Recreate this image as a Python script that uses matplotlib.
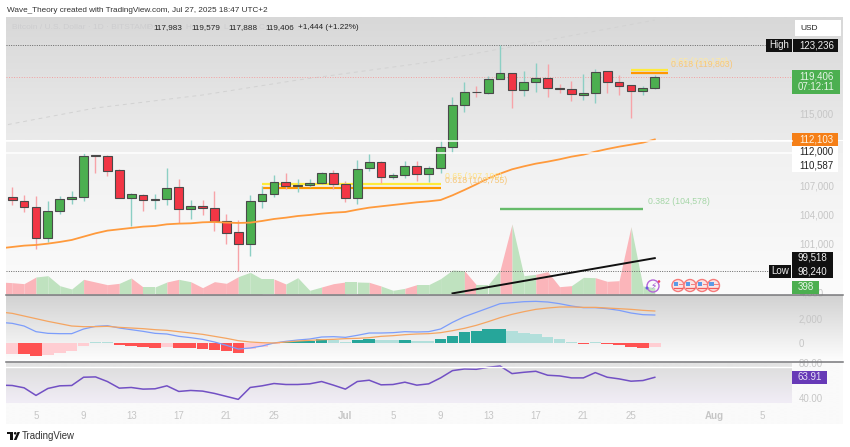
#!/usr/bin/env python3
# BTC/USD daily screenshot rebuilt: candles + EMA + volume, MACD pane, RSI pane
import numpy as np
import matplotlib; matplotlib.use("Agg")
import matplotlib.pyplot as plt
from matplotlib.patches import Rectangle, Circle, Polygon
from matplotlib.lines import Line2D
from matplotlib.transforms import Affine2D
from matplotlib.ticker import FixedLocator, NullLocator, FuncFormatter

plt.rcParams["font.family"] = ["Liberation Sans", "DejaVu Sans"]

# Jun 3 .. Jul 27 2025, one entry per day
opens = [105850, 105390, 104720, 101590, 104370, 105600, 105780, 110370, 110250, 108680, 105740,
         106060, 105460, 105600, 106840, 104580, 104860, 104620, 103260, 102130, 100980, 105420,
         106130, 107420, 107020, 107090, 107310, 108360, 107160, 105670, 108900, 109590, 107990,
         108210, 109190, 108280, 108900, 111250, 116000, 117600, 117490, 119070, 119870, 117760,
         118710, 119270, 118000, 117880, 117170, 117450, 120030, 118750, 118350, 117640, 117983]
highs = [106840, 106030, 105950, 105390, 105950, 106490, 110550, 110370, 110370, 108790, 106200,
         106170, 106170, 108970, 107740, 105530, 105460, 106490, 103990, 103370, 106030, 106990,
         108170, 108360, 107740, 107740, 108500, 108720, 107490, 109780, 110510, 109740, 108390,
         109740, 109740, 109190, 112040, 116940, 118790, 118270, 119470, 123236, 119870, 120110,
         120990, 120870, 118510, 118870, 119670, 120270, 120110, 119550, 118430, 118310, 119579]
lows = [104970, 104230, 100400, 101150, 104020, 105070, 105390, 108430, 108100, 105740, 102820,
        104370, 104510, 105000, 103130, 103500, 103950, 102300, 100940, 98240, 99730, 104690,
        105850, 106630, 106350, 106840, 107200, 106700, 105320, 105110, 108570, 107340, 107780,
        107890, 107520, 107450, 108360, 110620, 115270, 116980, 117290, 119070, 115730, 117050,
        117530, 116940, 117410, 116540, 116620, 116240, 117410, 117250, 114500, 117210, 117888]
closes = [105460, 104760, 101590, 104370, 105560, 105780, 110290, 110290, 108650, 105740, 106100,
          105460, 105600, 106810, 104550, 104860, 104650, 103330, 102090, 100980, 105420, 106100,
          107380, 107020, 107090, 107310, 108360, 107160, 105670, 108830, 109590, 107990, 108210,
          109190, 108320, 108900, 111250, 116000, 117570, 117530, 119070, 119870, 117760, 118710,
          119270, 118000, 117880, 117290, 117410, 119990, 118790, 118310, 117640, 117980, 119406]

# these start one day earlier so the lines run into the left edge
ema = [100500, 100637, 100772, 100840, 100976, 101145, 101348, 101686, 102024, 102300, 102437, 102575,
       102712, 102781, 102953, 103022, 103056, 103159, 103194, 103125, 103090, 103125, 103297, 103503,
       103641, 103813, 103919, 104059, 104164, 104234, 104477, 104687, 104827, 104967, 105107, 105247,
       105352, 105492, 105990, 106560, 107164, 107812, 108319, 108790, 109116, 109410, 109631, 109888,
       110181, 110402, 110733, 111029, 111291, 111515, 111740, 112103]
volume = [756, 714, 651, 1071, 1155, 525, 315, 924, 756, 588, 672, 1008, 441, 441, 756, 924, 777, 399,
          777, 672, 1092, 1365, 945, 945, 630, 1029, 231, 441, 651, 756, 756, 735, 504, 231, 357, 588,
          588, 966, 1512, 1470, 588, 588, 1512, 4410, 1155, 1239, 1407, 462, 525, 1050, 1029, 798, 840,
          4242, 504, 398]
macd = [1686, 1605, 1387, 925, 789, 762, 762, 1142, 1360, 1414, 1224, 1088, 952, 789, 734, 544, 435, 299,
        82, -190, -490, -408, -245, 0, 136, 245, 326, 490, 517, 462, 626, 816, 816, 843, 925, 898, 925,
        1142, 1686, 2149, 2502, 2856, 3210, 3291, 3373, 3400, 3346, 3210, 3019, 2883, 2883, 2802, 2666,
        2448, 2312, 2285]
signal = [2530, 2421, 2203, 1986, 1768, 1578, 1387, 1333, 1333, 1360, 1278, 1224, 1170, 1088, 1034, 925,
          816, 707, 544, 381, 190, 82, 27, 0, 82, 163, 218, 272, 299, 354, 381, 435, 544, 598, 680, 734,
          762, 843, 1006, 1197, 1442, 1741, 2067, 2339, 2557, 2747, 2856, 2938, 2938, 2910, 2910, 2856,
          2802, 2747, 2666, 2611]
rsi = [54.86, 54.48, 51.81, 43.05, 51.05, 54.10, 54.48, 64.00, 64.38, 59.05, 51.43, 52.19, 50.29, 50.67,
       54.10, 47.62, 48.76, 48.00, 45.33, 41.90, 38.48, 52.19, 54.10, 56.76, 55.62, 55.62, 56.38, 59.05,
       54.86, 50.29, 59.05, 60.57, 55.24, 55.62, 58.29, 54.86, 56.38, 63.24, 71.62, 73.52, 73.14, 75.43,
       76.95, 68.19, 69.71, 70.86, 66.29, 65.52, 63.24, 63.24, 69.33, 64.00, 62.10, 59.43, 60.19, 63.91]
hist = [-870, -898, -1061, -952, -789, -626, -218, 82, 82, -136, -218, -299, -381, -326, -435, -440, -462,
        -544, -653, -789, -517, -299, -54, 109, 136, 190, 299, 218, 109, 218, 326, 272, 218, 272, 163, 150,
        299, 598, 898, 1006, 1142, 1150, 979, 816, 707, 490, 299, 109, -82, 82, -82, -163, -326, -381, -326]

# faint long MA, only a few points survive the screenshot's fade
ma_days = [-1, 7, 16, 24, 35, 45, 54]
ma_vals = [113623, 115693, 117211, 118987, 121130, 123855, 126358]
trend_days = [37, 54]
trend_vals = [96060, 99518]

date_pos = [2, 6, 10, 14, 18, 22, 28, 32, 36, 40, 44, 48, 52, 59, 63]
date_labels = ["5", "9", "13", "17", "21", "25", "Jul", "5", "9", "13", "17", "21", "25", "Aug", "5"]
price_ticks = [101000, 104000, 107000, 115000]
macd_ticks = [0, 2000]
rsi_ticks = [40, 80]

W, H = 850, 447
X0, X1, XR = 6, 792, 843
UP = "#4caf50"; DN = "#f23645"; UPW = "#8ccfc4"; DNW = "#f7a3a8"
TICK = "#c6c6c6"; INK = "#222222"; FAINT = "#cdcdcf"

fig = plt.figure(figsize=(W / 100, H / 100), dpi=100, facecolor="white")
pix = Affine2D().scale(1 / W, -1 / H).translate(0, 1) + fig.transFigure

def pane(x0, y0, x1, y1, **kw):
    return fig.add_axes([x0 / W, 1 - y1 / H, (x1 - x0) / W, (y1 - y0) / H], **kw)

def gradient(x0, y0, x1, y1, c0, c1):
    a = pane(x0, y0, x1, y1, zorder=-5)
    c0 = np.array(plt.matplotlib.colors.to_rgb(c0)); c1 = np.array(plt.matplotlib.colors.to_rgb(c1))
    t = np.linspace(0, 1, 64)[:, None, None]
    a.imshow(c0 + (c1 - c0) * t, aspect="auto", interpolation="bilinear")
    a.axis("off")

def box(x0, y0, x1, y1, color, **kw):
    fig.add_artist(Rectangle((x0, y0), x1 - x0, y1 - y0, transform=pix, facecolor=color, edgecolor="none", **kw))

def label(x, y, s, color=INK, size=7, ha="left", **kw):
    fig.text(x, y, s, transform=pix, color=color, fontsize=size, ha=ha, va="center", **kw)

def hline(x0, x1, y, color, lw):
    fig.add_artist(Line2D([x0, x1], [y, y], transform=pix, color=color, lw=lw))

# backgrounds
gradient(X0, 17, XR, 140, "#d8d8d8", "#ebebeb")
gradient(X0, 141, XR, 153, "#efefef", "#f0f0f0")
gradient(X0, 153, XR, 294, "#f1f1f1", "#fbfbfb")
gradient(X0, 295, XR, 361, "#d2d2d2", "#fdfdfd")
gradient(X0, 362, XR, 424, "#fafafa", "#fafafa")
gradient(X0, 363, X1, 368, "#e3e3e3", "#e3e3e3")
gradient(X0, 368, X1, 403, "#dedede", "#f1edf6")

x = np.arange(len(closes))
xd = np.arange(-1, len(closes))
xlim = (-0.52, 65.53)

# price pane
ax = pane(X0, 17, X1, 294, zorder=1)
ax.patch.set_alpha(0)
ax.set_yscale("log")
ax.set_xlim(*xlim); ax.set_ylim(96000, 126750)
for k in range(len(closes)):
    up = closes[k] >= opens[k]
    ax.vlines(x[k], lows[k], highs[k], color=UPW if up else DNW, lw=1.0, zorder=3)
    ax.bar(x[k], abs(closes[k] - opens[k]), bottom=min(opens[k], closes[k]), width=0.74,
           color=UP if up else DN, edgecolor="#4a4a4a", lw=0.8, zorder=4)
ax.plot(ma_days, ma_vals, color="#d2d2d2", lw=0.7, ls=(0, (4, 4)), zorder=1)
ax.plot(xd, ema, color="#ff9a3c", lw=1.3, zorder=5)
ax.plot(trend_days, trend_vals, color="#111111", lw=1.4, zorder=6)
ax.axhline(closes[-1], color="#f2a0a0", lw=0.7, ls=(0, (1, 1.6)), zorder=2)
ax.hlines([123236, 98240], xlim[0], [63.3, 63.6], color="#666666", lw=0.7, ls=(0, (1, 1.4)), zorder=2)
# fib levels
ax.hlines(107196, 21, 36, color="#ffeb3b", lw=1.6, zorder=2)
ax.hlines(106755, 21, 36, color="#ff9800", lw=1.6, zorder=2)
ax.hlines(120170, 52, 55.1, color="#ffeb3b", lw=1.6, zorder=2)
ax.hlines(119803, 52, 55.1, color="#ff9800", lw=1.6, zorder=2)
ax.hlines(104578, 41, 53, color="#66bb6a", lw=1.7, zorder=2)
ax.yaxis.tick_right()
ax.yaxis.set_major_locator(FixedLocator(price_ticks)); ax.yaxis.set_minor_locator(NullLocator())
ax.yaxis.set_major_formatter(FuncFormatter(lambda v, _: f"{v:,.0f}"))
ax.set_xticks([])
ax.tick_params(axis="y", length=0, pad=5, labelsize=7, labelcolor=TICK)
for s in ax.spines.values(): s.set_visible(False)

# volume overlay at the bottom of the price pane
axv = pane(X0, 17, X1, 294, zorder=0.5)
axv.patch.set_alpha(0)
axv.set_xlim(*xlim); axv.set_ylim(0, 17450); axv.axis("off")
for k in range(1, len(volume)):
    up = closes[k - 1] >= opens[k - 1]
    axv.fill_between(xd[k - 1:k + 1], volume[k - 1:k + 1], color="#bfe2bf" if up else "#fbb5ba", lw=0)

# MACD pane
axm = pane(X0, 295, X1, 361, zorder=1)
axm.patch.set_alpha(0)
axm.set_xlim(*xlim); axm.set_ylim(-1469, 3918)
hist_cols = []
for k, v in enumerate(hist):
    prev = hist[k - 1] if k else v
    if v >= 0:
        hist_cols.append("#26a69a" if v > prev and k not in (7, 49) else "#b2dfdb")
    else:
        hist_cols.append("#ff5252" if v < prev else "#ffcdd2")
axm.bar(x, hist, width=0.96, color=hist_cols, lw=0)
axm.plot(xd, macd, color="#7c9dfb", lw=0.9)
axm.plot(xd, signal, color="#f5a561", lw=0.9)
axm.yaxis.tick_right(); axm.set_yticks(macd_ticks); axm.set_xticks([])
axm.yaxis.set_major_formatter(FuncFormatter(lambda v, _: f"{v:,.0f}"))
axm.tick_params(axis="y", length=0, pad=5, labelsize=7, labelcolor=TICK)
for s in axm.spines.values(): s.set_visible(False)

# RSI pane, runs on down to the date labels
axr = pane(X0, 363, X1, 403, zorder=1)
axr.patch.set_alpha(0)
axr.set_xlim(*xlim); axr.set_ylim(34.3, 80.4)
axr.plot(xd, rsi, color="#7250c4", lw=1.1)
axr.yaxis.tick_right(); axr.set_yticks(rsi_ticks, ["40.00", "80.00"])
axr.set_xticks(date_pos, date_labels)
axr.tick_params(axis="y", length=0, pad=5, labelsize=7, labelcolor=TICK)
axr.tick_params(axis="x", length=0, pad=6, labelsize=7, labelcolor=TICK)
for t in axr.get_xticklabels():
    if t.get_text() in ("Jul", "Aug"): t.set_fontweight("bold")
for s in axr.spines.values(): s.set_visible(False)

# half hidden by the pane border and the volume box
fig.text(800, 293, "4,000", transform=pix, color=TICK, fontsize=7, ha="left", va="center", zorder=0.9)

# pane chrome
hline(X0, X1, 140.5, "white", 1.1)
hline(X0, X1, 152.5, "white", 1.1)
hline(X0, X1, 367, "white", 1.0)
hline(X0, XR, 294.5, "#77777a", 1.1)
hline(X0, XR, 362, "#77777a", 1.1)

# header and legend row
label(7, 10, "Wave_Theory created with TradingView.com, Jul 27, 2025 18:47 UTC+2", "#333333", 5.85)
label(12, 27.5, "Bitcoin / U.S. Dollar · 1D · BITSTAMP", FAINT, 6.0)
for xo, letter, xv, val in [(147, "O", 153, "117,983"), (185, "H", 191, "119,579"),
                            (223, "L", 228, "117,888"), (259, "C", 265, "119,406")]:
    label(xo, 27.5, letter, FAINT, 5.9)
    label(xv, 27.5, val, INK, 5.9)
label(298, 27.5, "+1,444 (+1.22%)", INK, 5.9)

# fib texts
label(671, 62, "0.65 (120,170)", "#ffe9a0", 6.3)
label(671, 64.7, "0.618 (119,803)", "#f7c77a", 6.3)
label(445, 176.5, "0.65 (107,196)", "#ffe48a", 6.3)
label(445, 180.7, "0.618 (106,755)", "#f7c77a", 6.3)
label(648, 201, "0.382 (104,578)", "#a5d6a7", 6.3)

# right-hand price boxes
box(795, 20, 841, 36, "white")
label(800, 28, "USD", INK, 6.0)
box(766, 39, 792, 51.5, "#111111"); box(792.6, 39, 838, 51.5, "#111111")
label(779, 45, "High", "#eeeeee", 7, ha="center"); label(799, 45, "123,236", "#eeeeee", 7)
box(792, 70, 840, 94, UP)
label(799, 76.5, "119,406", "#e6f4e6", 7); label(798, 87, "07:12:11", "#e6f4e6", 7)
box(792, 133, 838, 146, "#f57f17")
label(799, 139.5, "112,103", "#fff3e0", 7)
box(792, 146, 838, 172, "white")
label(799, 152, "112,000", INK, 7); label(799, 165, "110,587", INK, 7)
box(792, 252, 833, 278, "#111111"); box(769, 265, 791.5, 278, "#111111")
label(798, 258, "99,518", "#eeeeee", 7); label(798, 271, "98,240", "#eeeeee", 7)
label(780, 271.5, "Low", "#eeeeee", 7, ha="center")
box(792, 281, 819, 294, UP)
label(798, 287.5, "398", "#e6f4e6", 7)
box(792, 371, 827, 383.5, "#673ab7")
label(798, 377, "63.91", "#e6e0f5", 7)

# event icons under the last candles
fig.add_artist(Circle((653, 286), 6, transform=pix, fc="none", ec="#b565d8", lw=1.0))
label(653.5, 286, "\u26a1", "#9c4fd0", 6.5, ha="center", family="DejaVu Sans")
fig.add_artist(Circle((659, 281.5), 1.3, transform=pix, fc="#f0405a", ec="none"))
fig.add_artist(Circle((647, 288), 1.5, transform=pix, fc="#6a5ae0", ec="none"))
for fx in (678, 690, 702, 713.5):
    fig.add_artist(Circle((fx, 285.5), 6, transform=pix, fc="#fbe4e4", ec="#f77b7b", lw=1.0))
    box(fx - 4, 282, fx + 0.5, 286, "#5b9be6")
    hline(fx - 4, fx + 4.5, 288, "#f05a5a", 0.9)
    hline(fx + 1, fx + 4.5, 284, "#f08080", 0.7)

# footer logo
box(7, 432, 13.5, 434.3, "#111111"); box(9.8, 434, 13.5, 440, "#111111")
fig.add_artist(Circle((15.2, 433.3), 1.3, transform=pix, fc="#111111", ec="none"))
fig.add_artist(Polygon([(17.5, 432), (20, 432), (16.5, 440), (13.8, 440)], transform=pix, fc="#111111", ec="none"))
label(22, 436, "TradingView", "#333333", 6.9)

fig.savefig("out.png", dpi=100, facecolor="white")
